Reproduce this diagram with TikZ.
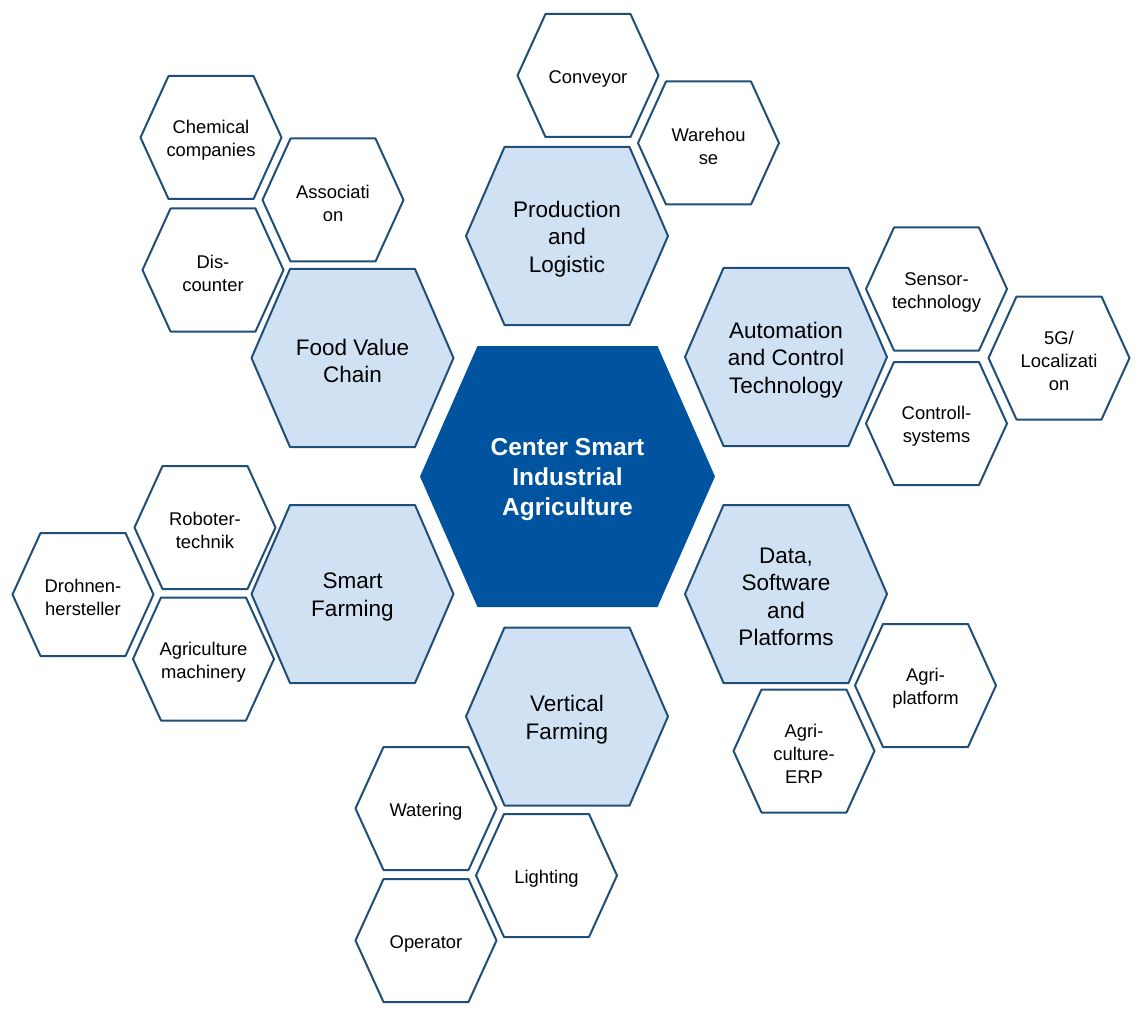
\documentclass[tikz,border=0pt]{standalone}
\usepackage{fontspec}
\setmainfont{Liberation Sans}
\usepackage{tikz}
\usetikzlibrary{backgrounds}
\definecolor{hexline}{RGB}{31,78,121}
\definecolor{hexfill}{RGB}{208,225,244}
\definecolor{hubblue}{RGB}{0,84,159}

\begin{document}
\begin{tikzpicture}[x=1pt, y=-1pt,
    hubtext/.style={align=center, text=white, yshift=-3pt, font=\fontsize{24.5}{30}\selectfont\bfseries},
    areatext/.style={align=center, yshift=-3pt, font=\fontsize{22.5}{27.5}\selectfont},
    parttext/.style={align=center, yshift=-3pt, font=\fontsize{18.4}{23}\selectfont},
    areahex/.style={draw=hexline, fill=hexfill, line width=2pt, line join=round},
    parthex/.style={draw=hexline, fill=white, line width=2pt, line join=round},
    % text sits 3pt low, so each outline starts 3pt higher
    hubpath/.style={insert path={++(-147.5,-3) -- ++(57.5,-130.5) -- ++(180,0) -- ++(57.5,130.5) -- ++(-57.5,130.5) -- ++(-180,0) -- cycle}},
    areapath/.style={insert path={++(-101,-3) -- ++(38.5,-89) -- ++(125,0) -- ++(38.5,89) -- ++(-38.5,89) -- ++(-125,0) -- cycle}},
    partpath/.style={insert path={++(-70.5,-3) -- ++(28,-61.5) -- ++(85,0) -- ++(28,61.5) -- ++(-28,61.5) -- ++(-85,0) -- cycle}},
  ]
  \useasboundingbox (0,0) rectangle (1140,1016);

  % centre
  \node[hubtext] (hub) at (567.5,476.5) {Center Smart\\Industrial\\Agriculture};

  % fields
  \node[areatext] (prod) at (567,236) {Production\\and\\Logistic};
  \node[areatext] (food) at (352.5,358) {Food Value\\Chain};
  \node[areatext] (auto) at (786,357) {Automation\\and Control\\Technology};
  \node[areatext] (farm) at (352.5,594) {Smart\\Farming};
  \node[areatext] (data) at (786,594) {Data,\\Software\\and\\Platforms};
  \node[areatext] (vert) at (567,716.5) {Vertical\\Farming};

  % partners
  \node[parttext] (conv) at (588,75.5) {Conveyor};
  \node[parttext] (ware) at (708.5,143) {Warehou\\se};
  \node[parttext] (chem) at (211,137.5) {Chemical\\companies};
  \node[parttext] (assoc) at (333,200) {Associati\\on};
  \node[parttext] (disc) at (213,270) {Dis-\\counter};
  \node[parttext] (sens) at (936.5,289) {Sensor-\\technology};
  \node[parttext] (fiveg) at (1059,358) {5G/\\Localizati\\on};
  \node[parttext] (ctrl) at (936.5,423.5) {Controll-\\systems};
  \node[parttext] (robo) at (205,527.5) {Roboter-\\technik};
  \node[parttext] (drone) at (83,594.5) {Drohnen-\\hersteller};
  \node[parttext] (mach) at (203.5,659) {Agriculture\\machinery};
  \node[parttext] (aplat) at (925.5,685.5) {Agri-\\platform};
  \node[parttext] (erp) at (804,751) {Agri-\\culture-\\ERP};
  \node[parttext] (water) at (426,808.5) {Watering};
  \node[parttext] (light) at (546.5,875.5) {Lighting};
  \node[parttext] (oper) at (426,940.5) {Operator};

  \begin{scope}[on background layer]
    \fill[hubblue] (hub.center) [hubpath];
    \foreach \n in {prod,food,auto,farm,data,vert}
      \path[areahex] (\n.center) [areapath];
    \foreach \n in {conv,ware,chem,assoc,disc,sens,fiveg,ctrl,robo,drone,mach,aplat,erp,water,light,oper}
      \path[parthex] (\n.center) [partpath];
  \end{scope}
\end{tikzpicture}
\end{document}
